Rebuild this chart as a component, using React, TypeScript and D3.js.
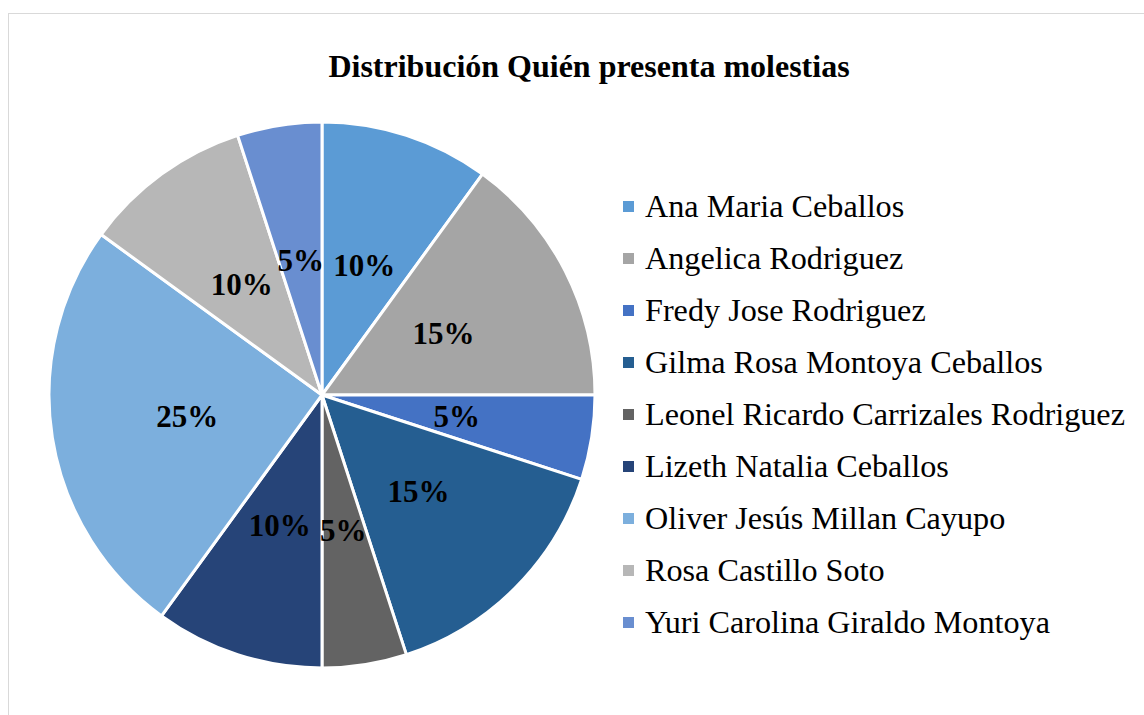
import React from "react";
import * as d3 from "d3";

const title = "Distribución Quién presenta molestias";
const names = [
  "Ana Maria Ceballos",
  "Angelica Rodriguez",
  "Fredy Jose Rodriguez",
  "Gilma Rosa Montoya Ceballos",
  "Leonel Ricardo Carrizales Rodriguez",
  "Lizeth Natalia Ceballos",
  "Oliver Jesús Millan Cayupo",
  "Rosa Castillo Soto",
  "Yuri Carolina Giraldo Montoya",
];
const values = [10, 15, 5, 15, 5, 10, 25, 10, 5];
const colors = [
  "#5B9BD5",
  "#A5A5A5",
  "#4472C4",
  "#255E91",
  "#636363",
  "#264478",
  "#7CAFDD",
  "#B7B7B7",
  "#698ED0",
];

export default function App() {
  const W = 1144;
  const H = 715;
  const cx = 322;
  const cy = 395;
  const R = 273;
  const total = d3.sum(values);
  const pie = d3.pie<number>().sort(null).value((d) => d);
  const arcs = pie(values);
  const arc = d3.arc<d3.PieArcDatum<number>>().innerRadius(0).outerRadius(R);
  const legendY = d3.scalePoint<number>().domain(d3.range(names.length)).range([217, 217 + 52 * 8]);
  const font = "'Liberation Serif', 'Times New Roman', serif";
  return (
    <svg width={W} height={H} style={{ position: "absolute", left: 0, top: 0, background: "#fff" }}>
      <rect x={8.5} y={13.5} width={1300} height={900} fill="#fff" stroke="#D9D9D9" strokeWidth={1} />
      <text x={589} y={77} textAnchor="middle" fontFamily={font} fontWeight="bold" fontSize={32} fill="#000">
        {title}
      </text>
      <g transform={`translate(${cx},${cy})`}>
        {arcs.map((a, i) => (
          <path key={i} d={arc(a) || ""} fill={colors[i]} stroke="#fff" strokeWidth={3} strokeLinejoin="round" />
        ))}
        {arcs.map((a, i) => {
          const [x, y] = arc.centroid(a);
          return (
            <text
              key={"l" + i}
              x={x}
              y={y}
              dy="0.35em"
              textAnchor="middle"
              fontFamily={font}
              fontWeight="bold"
              fontSize={31}
              fill="#000"
            >
              {`${Math.round((values[i] / total) * 100)}%`}
            </text>
          );
        })}
      </g>
      <g>
        {names.map((n, i) => {
          const y = legendY(i) as number;
          return (
            <g key={n}>
              <rect x={623} y={y - 16} width={11} height={11} fill={colors[i]} />
              <text x={645} y={y} fontFamily={font} fontSize={32.2} fill="#000">
                {n}
              </text>
            </g>
          );
        })}
      </g>
    </svg>
  );
}
